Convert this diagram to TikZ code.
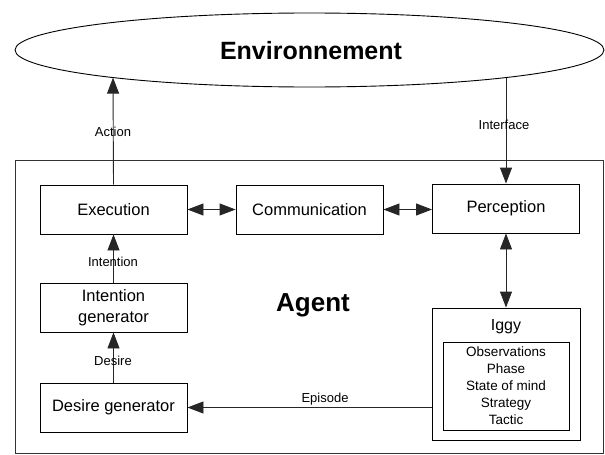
\documentclass[tikz,border=0pt]{standalone}
\usepackage{fontspec}
\setmainfont{Liberation Sans}
\usetikzlibrary{shapes.geometric,arrows.meta}
\tikzset{
  box/.style={draw=black, line width=0.9pt, minimum width=147pt, minimum height=49pt, inner sep=0pt, align=center, font=\fontsize{16.5}{21}\selectfont},
  lbl/.style={font=\fontsize{13}{15}\selectfont, inner sep=0pt},
  conn/.style={draw=black!85, line width=0.9pt},
  tip/.style={-{Triangle[length=16pt,width=12pt]}},
  dtip/.style={{Triangle[length=16pt,width=12pt]}-{Triangle[length=16pt,width=12pt]}},
  bigtxt/.style={font=\fontsize{25}{28}\selectfont\bfseries, inner sep=0pt}
}
\begin{document}
\begin{tikzpicture}[x=1pt,y=-1pt]
\useasboundingbox (0,0) rectangle (605,455);
% environment
\node[ellipse, draw=black, line width=0.9pt, minimum width=589pt, minimum height=74pt, inner sep=0pt] (env) at (309.5,50) {};
\node[bigtxt] (envtxt) at (311,51) {Environnement};
% agent frame
\node[draw=black!80, line width=0.9pt, minimum width=588pt, minimum height=293pt, inner sep=0pt] (agent) at (309,306.5) {};
\node[bigtxt, font=\fontsize{26}{28}\selectfont\bfseries] (agenttxt) at (313,305) {Agent};
% boxes
\node[box] (exec) at (113.5,209.5) {Execution};
\node[box] (comm) at (309.5,209.5) {Communication};
\node[box] (perc) at (506,208.5) {Perception};
\node[box] (intgen) at (113.5,307.5) {Intention\\generator};
\node[box] (desgen) at (113.5,407.5) {Desire generator};
\node[draw=black, line width=0.9pt, minimum width=148pt, minimum height=132pt, inner sep=0pt] (iggy) at (506,374) {};
\node[font=\fontsize{16}{18}\selectfont, inner sep=0pt] (iggytxt) at (506,327) {Iggy};
\node[draw=black, line width=0.9pt, minimum width=126pt, minimum height=88pt, inner sep=0pt, align=center, font=\fontsize{13.5}{17}\selectfont] (inner) at (506,386) {Observations\\Phase\\State of mind\\Strategy\\Tactic};
% endpoints on the ellipse
\coordinate (actend) at (113,77.6);
\coordinate (ifstart) at (506,77.6);
% connectors
\draw[conn,tip] (exec.north) -- (actend);
\node[lbl] (actlbl) at (113,132) {Action};
\draw[conn,tip] (ifstart) -- (perc.north);
\node[lbl] (iflbl) at (504,125) {Interface};
\draw[conn,dtip] (exec.east) -- (comm.west);
\draw[conn,dtip] (comm.east) -- (comm.east -| perc.west);
\draw[conn,dtip] (perc.south) -- (iggy.north);
\draw[conn,tip] (intgen.north) -- (exec.south);
\node[lbl] (intlbl) at (113,262) {Intention};
\draw[conn,tip] (desgen.north) -- (intgen.south);
\node[lbl] (deslbl) at (113,361) {Desire};
\draw[conn,tip] (iggy.west |- desgen.east) -- (desgen.east);
\node[lbl] (epilbl) at (325,399) {Episode};
\end{tikzpicture}
\end{document}
